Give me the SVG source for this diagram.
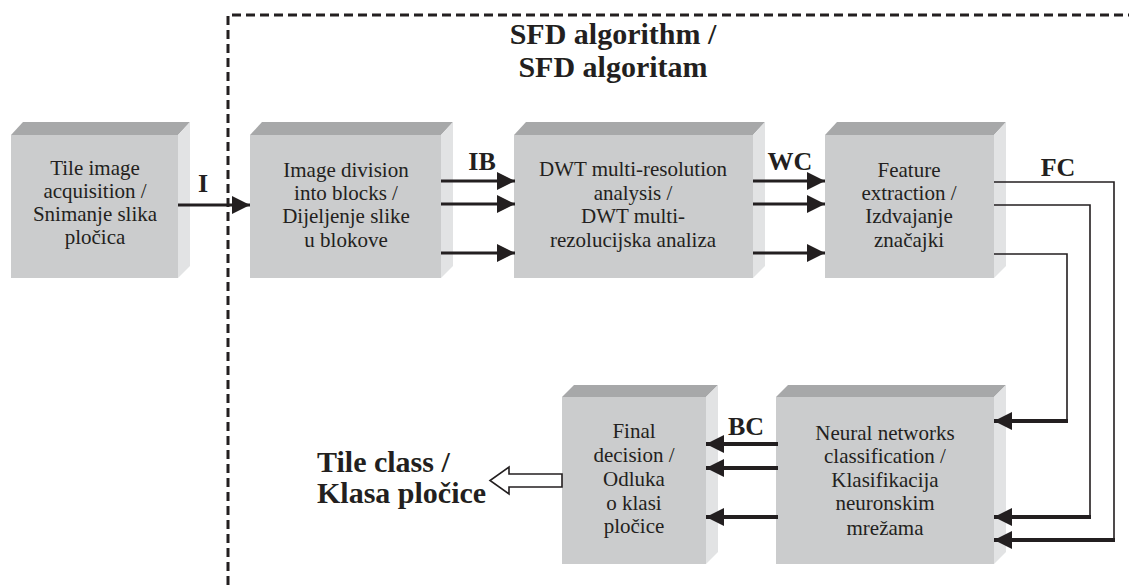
<svg xmlns="http://www.w3.org/2000/svg" width="1129" height="585" viewBox="0 0 1129 585">
  <style>
    .front { fill: #cbcccd; }
    .top { fill: #a7a8a9; }
    .side { fill: #e2e3e4; }
    .lbl { font-family: "Liberation Serif", "Times New Roman", serif; font-size: 21px; fill: #231f20; text-anchor: middle; }
    .bold { font-family: "Liberation Serif", "Times New Roman", serif; font-weight: bold; fill: #231f20; }
    .flow { stroke: #231f20; stroke-width: 3; fill: none; marker-end: url(#head); }
    .thick { stroke: #231f20; stroke-width: 4; fill: none; marker-end: url(#head); }
    .wire { stroke: #231f20; stroke-width: 1.6; fill: none; }
    .frame { stroke: #231f20; stroke-width: 3; fill: none; stroke-dasharray: 9 5; }
  </style>
  <defs>
    <marker id="head" markerUnits="userSpaceOnUse" markerWidth="18" markerHeight="18" refX="18" refY="9" orient="auto">
      <path d="M0,0 L18,9 L0,18 z" fill="#231f20"/>
    </marker>
  </defs>

  <rect width="1129" height="585" fill="#ffffff"/>

  <!-- dashed boundary of the SFD algorithm -->
  <path class="frame" d="M228,585 V15 H1129"/>
  <text class="bold" x="613" y="44" font-size="30" text-anchor="middle">SFD algorithm /</text>
  <text class="bold" x="613" y="77" font-size="30" text-anchor="middle">SFD algoritam</text>

  <!-- Tile image acquisition -->
  <g id="acquisition">
    <polygon class="top" points="11,135 23,122 190,122 178,135"/>
    <polygon class="side" points="178,135 190,122 190,266 178,278"/>
    <rect class="front" x="11" y="135" width="167" height="143"/>
    <text class="lbl" x="95" y="175">Tile image</text>
    <text class="lbl" x="95" y="198">acquisition /</text>
    <text class="lbl" x="95" y="221">Snimanje slika</text>
    <text class="lbl" x="95" y="244">pločica</text>
  </g>

  <!-- Image division into blocks -->
  <g id="division">
    <polygon class="top" points="250,135 262,122 453,122 441,135"/>
    <polygon class="side" points="441,135 453,122 453,266 441,278"/>
    <rect class="front" x="250" y="135" width="191" height="143"/>
    <text class="lbl" x="346" y="177">Image division</text>
    <text class="lbl" x="346" y="200">into blocks /</text>
    <text class="lbl" x="346" y="223">Dijeljenje slike</text>
    <text class="lbl" x="346" y="247">u blokove</text>
  </g>

  <!-- DWT multi-resolution analysis -->
  <g id="dwt">
    <polygon class="top" points="514,135 526,122 765,122 753,135"/>
    <polygon class="side" points="753,135 765,122 765,266 753,278"/>
    <rect class="front" x="514" y="135" width="239" height="143"/>
    <text class="lbl" x="633" y="176">DWT multi-resolution</text>
    <text class="lbl" x="633" y="200">analysis /</text>
    <text class="lbl" x="633" y="223">DWT multi-</text>
    <text class="lbl" x="633" y="247">rezolucijska analiza</text>
  </g>

  <!-- Feature extraction -->
  <g id="features">
    <polygon class="top" points="825,135 837,122 1006,122 994,135"/>
    <polygon class="side" points="994,135 1006,122 1006,266 994,278"/>
    <rect class="front" x="825" y="135" width="169" height="143"/>
    <text class="lbl" x="909" y="177">Feature</text>
    <text class="lbl" x="909" y="200">extraction /</text>
    <text class="lbl" x="909" y="223">Izdvajanje</text>
    <text class="lbl" x="909" y="247">značajki</text>
  </g>

  <!-- Final decision -->
  <g id="decision">
    <polygon class="top" points="562,397 574,385 718,385 706,397"/>
    <polygon class="side" points="706,397 718,385 718,552 706,564"/>
    <rect class="front" x="562" y="397" width="144" height="167"/>
    <text class="lbl" x="634" y="438">Final</text>
    <text class="lbl" x="634" y="462">decision /</text>
    <text class="lbl" x="634" y="486">Odluka</text>
    <text class="lbl" x="634" y="510">o klasi</text>
    <text class="lbl" x="634" y="533">pločice</text>
  </g>

  <!-- Neural networks classification -->
  <g id="classification">
    <polygon class="top" points="776,397 788,385 1006,385 994,397"/>
    <polygon class="side" points="994,397 1006,385 1006,552 994,564"/>
    <rect class="front" x="776" y="397" width="218" height="167"/>
    <text class="lbl" x="885" y="440">Neural networks</text>
    <text class="lbl" x="885" y="463">classification /</text>
    <text class="lbl" x="885" y="487">Klasifikacija</text>
    <text class="lbl" x="885" y="510">neuronskim</text>
    <text class="lbl" x="885" y="535">mrežama</text>
  </g>

  <!-- connectors -->
  <g id="connectors">
    <line class="flow" x1="178" y1="205" x2="250" y2="205"/>
    <text class="bold" x="203" y="192" font-size="26" text-anchor="middle">I</text>

    <line class="flow" x1="441" y1="181" x2="515" y2="181"/>
    <line class="flow" x1="441" y1="204" x2="515" y2="204"/>
    <line class="flow" x1="441" y1="253" x2="515" y2="253"/>
    <text class="bold" x="482" y="170" font-size="26" text-anchor="middle">IB</text>

    <line class="flow" x1="753" y1="181" x2="825" y2="181"/>
    <line class="flow" x1="753" y1="204" x2="825" y2="204"/>
    <line class="flow" x1="753" y1="253" x2="825" y2="253"/>
    <text class="bold" x="790" y="170" font-size="26" text-anchor="middle">WC</text>

    <path class="wire" d="M994,182 H1114 V540"/>
    <path class="wire" d="M994,205 H1090 V517"/>
    <path class="wire" d="M994,254 H1067 V421"/>
    <text class="bold" x="1058" y="176" font-size="26" text-anchor="middle">FC</text>

    <line class="thick" x1="1068" y1="421" x2="994" y2="421"/>
    <line class="thick" x1="1091" y1="517" x2="994" y2="517"/>
    <line class="thick" x1="1115" y1="540" x2="994" y2="540"/>

    <line class="thick" x1="778" y1="444" x2="706" y2="444"/>
    <line class="thick" x1="778" y1="468" x2="706" y2="468"/>
    <line class="thick" x1="778" y1="517" x2="706" y2="517"/>
    <text class="bold" x="746" y="435" font-size="26" text-anchor="middle">BC</text>

    <polygon points="562,474 509,474 509,467 490,480.5 509,494 509,487 562,487" fill="#ffffff" stroke="#231f20" stroke-width="1.6"/>
  </g>

  <text class="bold" x="317" y="472" font-size="30">Tile class /</text>
  <text class="bold" x="317" y="503" font-size="30">Klasa pločice</text>
</svg>
